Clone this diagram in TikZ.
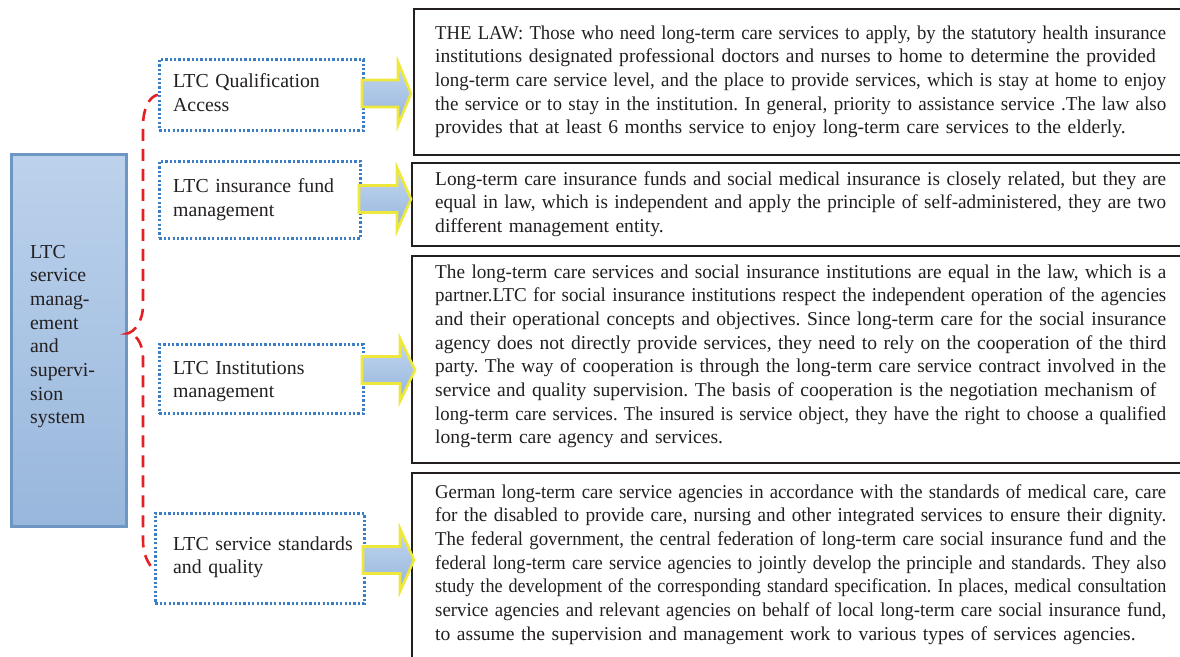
\documentclass[tikz,border=0pt]{standalone}
\usepackage{graphicx}
\usepackage{fontspec}
\setmainfont{Liberation Serif}
\definecolor{txt}{RGB}{35,31,32}
\definecolor{dotblue}{RGB}{60,125,200}
\definecolor{mainborder}{RGB}{110,150,195}
\definecolor{maintop}{RGB}{188,210,236}
\definecolor{mainbot}{RGB}{152,183,220}
\definecolor{arrtop}{RGB}{196,216,240}
\definecolor{arrbot}{RGB}{148,180,220}
\definecolor{arryellow}{RGB}{238,232,60}
\definecolor{bracered}{RGB}{228,32,36}
\newlength{\jlw}
\newcommand{\jl}[1]{\settowidth{\jlw}{#1}\ifdim\jlw>\linewidth\resizebox{\linewidth}{\height}{#1}\else\makebox[\linewidth][s]{#1}\fi}
\newcommand{\bigarrow}[4]{\path[arrowshape] (#1,#2-13.5) -- (#3,#2-13.5) -- (#3,#2-31.5) -- (#4,#2) -- (#3,#2+31.5) -- (#3,#2+13.5) -- (#1,#2+13.5) -- cycle;}
\begin{document}
\begin{tikzpicture}[x=1pt,y=-1pt,
  txtfont/.style={font=\fontsize{19.8}{23.7}\selectfont\frenchspacing, text=txt},
  parfont/.style={font=\fontsize{19.6}{23.7}\selectfont\frenchspacing, text=txt},
  mainbox/.style={draw=mainborder, line width=2.6pt, top color=maintop, bottom color=mainbot, inner sep=0pt},
  dotbox/.style={draw=dotblue, line width=2.6pt, dash pattern=on 2.3pt off 2.1pt, fill=white, inner sep=0pt},
  frame/.style={draw=txt, line width=2pt, inner sep=0pt},
  label/.style={txtfont, inner sep=0pt, anchor=base west, text width=240pt, align=left},
  para/.style={parfont, inner sep=0pt, anchor=base west, text width=731pt, align=left},
  arrowshape/.style={draw=arryellow, line width=2.6pt, line join=miter, top color=arrtop, bottom color=arrbot},
  brace/.style={draw=bracered, line width=2.6pt, dash pattern=on 12pt off 8pt}
]
\useasboundingbox (0,0) rectangle (1180,656);
\clip (0,0) rectangle (1180,656);

% main box
\node[mainbox, minimum width=115pt, minimum height=372pt, anchor=north west] (main) at (10,153) {};
\node[label, text width=90pt] (maint) at (30,258) {LTC\\service\\manag-\\ement\\and\\supervi-\\sion\\system};

% dotted boxes
\node[dotbox, minimum width=204pt, minimum height=71pt, anchor=north west] (b1) at (158,58) {};
\node[label] (b1t) at (173,87.3) {LTC Qualification\\Access};
\node[dotbox, minimum width=201pt, minimum height=77pt, anchor=north west] (b2) at (158,160) {};
\node[label] (b2t) at (173,192.7) {LTC insurance fund\\management};
\node[dotbox, minimum width=204pt, minimum height=69pt, anchor=north west] (b3) at (158,343) {};
\node[label] (b3t) at (173,374) {LTC Institutions\\management};
\node[dotbox, minimum width=209pt, minimum height=90pt, anchor=north west] (b4) at (154,512) {};
\node[label] (b4t) at (173,550) {LTC service standards\\and quality};

% red dashed brace
\draw[brace] (b1.west) .. controls (149,96) and (143,110) .. (143,125) -- (143,305)
  .. controls (143,322) and (134,332) .. ([yshift=7pt]main.east)
  .. controls (134,332) and (143,342) .. (143,358) -- (143,540)
  .. controls (143,555) and (148,563) .. ([yshift=-12pt]b4.west);

% frames
\node[frame, minimum width=800pt, minimum height=146pt, anchor=north west] (fa) at (413,8) {};
\node[frame, minimum width=800pt, minimum height=83pt, anchor=north west] (fb) at (411,162) {};
\node[frame, minimum width=800pt, minimum height=207pt, anchor=north west] (fc) at (411,255) {};
\node[frame, minimum width=800pt, minimum height=250pt, anchor=north west] (fd) at (411,472) {};

% arrows
\bigarrow{362}{93.5}{398}{411}
\bigarrow{359}{199}{397}{411}
\bigarrow{362}{370}{400}{415}
\bigarrow{363}{560}{400}{414}

% paragraphs
\node[para] (ta) at (435,39) {\jl{THE LAW: Those who need long-term care services to apply, by the statutory health insurance}\\
\jl{institutions designated professional doctors and nurses to home to determine the provided}\\
\jl{long-term care service level, and the place to provide services, which is stay at home to enjoy}\\
\jl{the service or to stay in the institution. In general, priority to assistance service .The law also}\\
provides that at least 6 months service to enjoy long-term care services to the elderly.};

\node[para] (tb) at (435,185) {\jl{Long-term care insurance funds and social medical insurance is closely related, but they are}\\
\jl{equal in law, which is independent and apply the principle of self-administered, they are two}\\
different management entity.};

\node[para] (tc) at (435,278) {\jl{The long-term care services and social insurance institutions are equal in the law, which is a}\\
\jl{partner.LTC for social insurance institutions respect the independent operation of the agencies}\\
\jl{and their operational concepts and objectives. Since long-term care for the social insurance}\\
\jl{agency does not directly provide services, they need to rely on the cooperation of the third}\\
\jl{party. The way of cooperation is through the long-term care service contract involved in the}\\
\jl{service and quality supervision. The basis of cooperation is the negotiation mechanism of}\\
\jl{long-term care services. The insured is service object, they have the right to choose a qualified}\\
long-term care agency and services.};

\node[para] (td) at (435,498) {\jl{German long-term care service agencies in accordance with the standards of medical care, care}\\
\jl{for the disabled to provide care, nursing and other integrated services to ensure their dignity.}\\
\jl{The federal government, the central federation of long-term care social insurance fund and the}\\
\jl{federal long-term care service agencies to jointly develop the principle and standards. They also}\\
\jl{study the development of the corresponding standard specification. In places, medical consultation}\\
\jl{service agencies and relevant agencies on behalf of local long-term care social insurance fund,}\\
to assume the supervision and management work to various types of services agencies.};
\end{tikzpicture}
\end{document}
